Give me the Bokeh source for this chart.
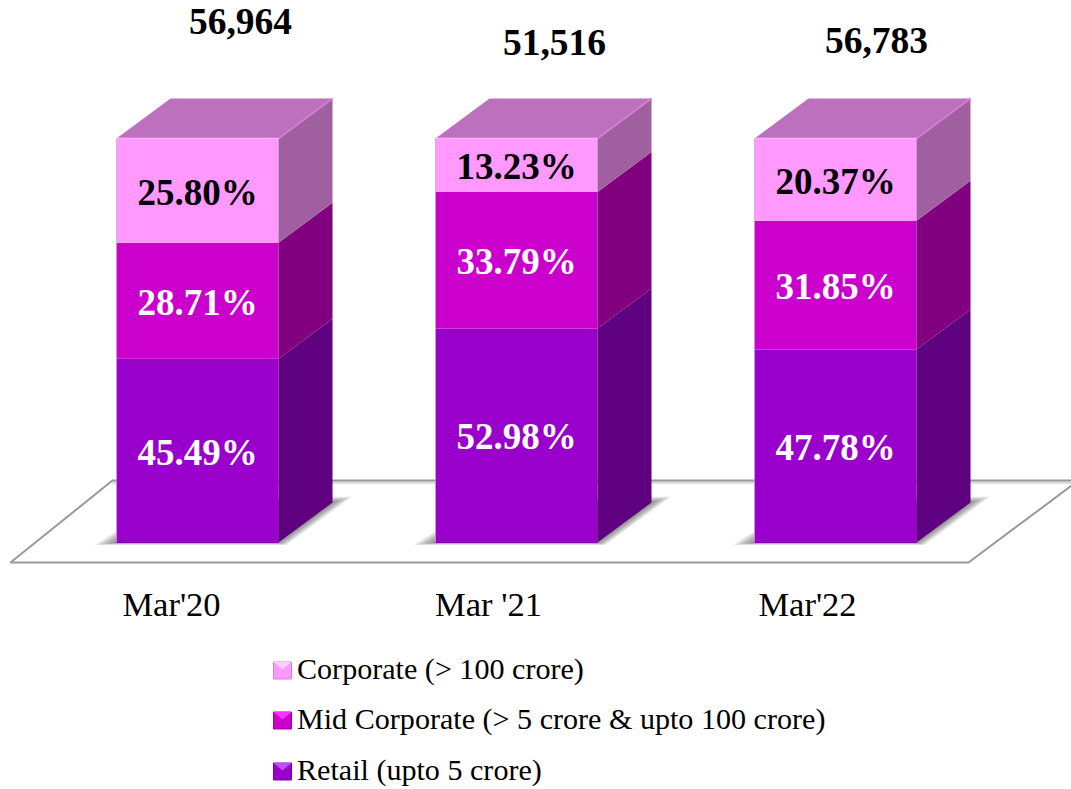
from bokeh.plotting import figure
from bokeh.embed import file_html
from bokeh.resources import INLINE
from bokeh.core.properties import value

categories = ["Mar'20", "Mar '21", "Mar'22"]
totals = ["56,964", "51,516", "56,783"]
retail = [45.49, 52.98, 47.78]
mid_corporate = [28.71, 33.79, 31.85]
corporate = [25.80, 13.23, 20.37]
series_names = ["Corporate (> 100 crore)", "Mid Corporate (> 5 crore & upto 100 crore)", "Retail (upto 5 crore)"]

FRONT = ["#9900CC", "#CC00CC", "#FF99FF"]
SIDE = ["#5F0080", "#800080", "#A0609F"]
SWATCH_LIGHT = ["#C050F0", "#FF30FF", "#FFD0FF"]
SWATCH_DARK = ["#7000A0", "#A000A0", "#D080D0"]
TOP_CAP = "#BD70BD"
FONT = value("Liberation Serif")

W, H = 1071, 789
XC0, XSTEP, Y0, YSCALE = 197.0, 319.0, 542.0, 4.04
def dx(px): return (px - XC0) / XSTEP
def dy(py): return (Y0 - py) / YSCALE

p = figure(width=W, height=H, output_backend="svg", toolbar_location=None,
           x_range=(dx(0), dx(W)), y_range=(dy(H), dy(0)),
           min_border=0, outline_line_color=None, background_fill_color="white")
p.xaxis.visible = False
p.yaxis.visible = False
p.grid.visible = False

BAR_W = 162 / XSTEP
DX = 54 / XSTEP
DY = 40 / YSCALE
n = len(categories)
x = list(range(n))

# floor
fx = [dx(10), dx(968), dx(1078), dx(112)]
fy = [dy(562), dy(562), dy(480), dy(480)]
p.line([dx(112), dx(1078)], [dy(482), dy(482)], line_color="#DDDDDD", line_width=3)
p.patch(fx, fy, fill_color="white", fill_alpha=0, line_color="#999999", line_width=2)

# soft shadows of the bars on the floor
STEPS = 10
for i in x:
    l = i - BAR_W / 2
    r = i + BAR_W / 2
    for s in range(STEPS):
        g = 1 - s / STEPS
        p.patch([l - 22 * g / XSTEP, r + 8 * g / XSTEP, r + DX + 20 * g / XSTEP, l + DX],
                [-2.5 * g / YSCALE, -2.5 * g / YSCALE, DY + 6 * g / YSCALE, DY + 6 * g / YSCALE],
                fill_color="#404040", fill_alpha=0.075, line_color=None)

# stacked bars
stacks = [retail, mid_corporate, corporate]
bottom = [0.0] * n
for k, vals in enumerate(stacks):
    top = [b + v for b, v in zip(bottom, vals)]
    p.quad(left=[i - BAR_W / 2 for i in x], right=[i + BAR_W / 2 for i in x],
           bottom=bottom, top=top, fill_color=FRONT[k], line_color=None)
    p.patches([[i + BAR_W / 2, i + BAR_W / 2 + DX, i + BAR_W / 2 + DX, i + BAR_W / 2] for i in x],
              [[b, b + DY, t + DY, t] for b, t in zip(bottom, top)],
              fill_color=SIDE[k], line_color=None)
    bottom = top

# caps
p.patches([[i - BAR_W / 2, i + BAR_W / 2, i + BAR_W / 2 + DX, i - BAR_W / 2 + DX] for i in x],
          [[t, t, t + DY, t + DY] for t in bottom],
          fill_color=TOP_CAP, line_color=None)
# edge highlights
p.multi_line([[i + BAR_W / 2, i + BAR_W / 2 + DX] for i in x],
             [[t, t + DY] for t in bottom], line_color="#D080D0", line_width=2)
p.multi_line([[i - BAR_W / 2, i + BAR_W / 2] for i in x],
             [[t, t] for t in bottom], line_color="#FFB0FF", line_width=1.5)
p.multi_line([[i - BAR_W / 2, i - BAR_W / 2] for i in x],
             [[0, t] for t in bottom], line_color="#C8A0D8", line_width=1, line_alpha=0.7)
p.multi_line([[i - BAR_W / 2, i + BAR_W / 2] for i in x],
             [[0, 0] for t in bottom], line_color="#8000A8", line_width=1)

# percentage labels
bottom = [0.0] * n
for k, vals in enumerate(stacks):
    mids = [b + v / 2 for b, v in zip(bottom, vals)]
    p.text(x=x, y=[m - 1.5 / YSCALE for m in mids], text=[f"{v:.2f}%" for v in vals],
           text_font=FONT, text_font_size="37px", text_font_style="bold",
           text_color="black" if k == 2 else "white", text_align="center", text_baseline="middle")
    bottom = [b + v for b, v in zip(bottom, vals)]

# totals and category labels
total_dx = [43, 38, 41]
total_py = [21, 42, 40]
p.text(x=[i + d / XSTEP for i, d in zip(x, total_dx)], y=[dy(q) for q in total_py], text=totals,
       text_font=FONT, text_font_size="37.5px", text_font_style="bold",
       text_color="black", text_align="center", text_baseline="middle")
cat_dx = [-26, -28, -28]
p.text(x=[i + d / XSTEP for i, d in zip(x, cat_dx)], y=[dy(603)] * n, text=categories,
       text_font=FONT, text_font_size="34.5px", text_color="black",
       text_align="center", text_baseline="middle")

# legend
leg_py = [670, 720, 771]
for j, name in enumerate(series_names):
    k = 2 - j
    cy = leg_py[j]
    l, r, t, b = dx(273), dx(291), dy(cy - 8.5), dy(cy + 8.5)
    cx, my = dx(282), dy(cy - 1)
    p.quad(left=[l], right=[r], top=[t], bottom=[b], fill_color=FRONT[k], line_color=SWATCH_DARK[k], line_width=1)
    p.patch([l, r, cx], [t, t, my], fill_color=SWATCH_LIGHT[k], line_color=None)
    p.text(x=[dx(296.5)], y=[dy(cy - 1.5)], text=[name], text_font=FONT, text_font_size="30.1px",
           text_color="black", text_align="left", text_baseline="middle")

open("out.html", "w").write(file_html(p, INLINE))
